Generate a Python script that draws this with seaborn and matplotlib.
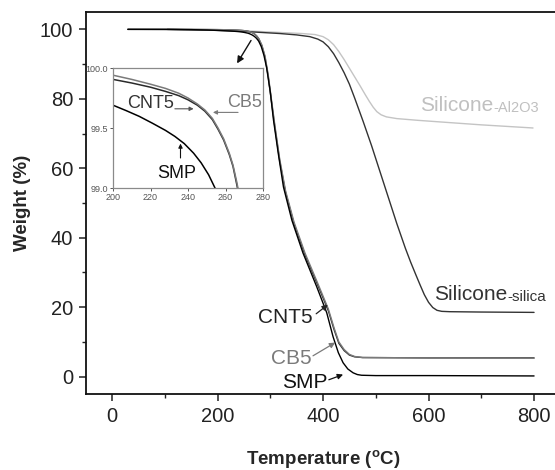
import matplotlib
matplotlib.use("Agg")
import matplotlib.pyplot as plt
import seaborn as sns
import pandas as pd
from matplotlib.ticker import MultipleLocator

# ---------------- data ----------------
smp_t = [30, 100, 150, 180, 200, 207, 214, 221, 228, 233, 238, 243, 247, 251, 254.4, 258,
         262, 266, 270, 274, 278, 283, 288, 293, 300, 306, 315, 325, 341, 362, 388, 407,
         419, 429, 438, 447, 457, 465, 473, 500, 600, 700, 800]
smp_w = [100.0, 99.98, 99.92, 99.82, 99.69, 99.645, 99.597, 99.54, 99.48, 99.43, 99.37,
         99.29, 99.21, 99.11, 99.0, 98.88, 98.65, 98.35, 97.95, 97.4, 96.6, 95.0, 92.5,
         89.0, 82.0, 74.0, 64.4, 54.6, 45.0, 35.6, 25.9, 18.4, 11.5, 6.9, 4.0, 2.2, 1.1,
         0.6, 0.4, 0.3, 0.3, 0.25, 0.2]

cb5_t = [30, 100, 150, 200, 210, 220, 228, 235, 240, 245, 249, 253, 256, 259, 262, 264,
         266, 267, 270, 274, 278, 284, 290, 296, 302, 309, 318, 329, 345, 366, 391, 410,
         421, 430, 440, 450, 460, 475, 600, 700, 800]
cb5_w = [100.0, 100.0, 99.98, 99.94, 99.905, 99.865, 99.83, 99.79, 99.75, 99.70, 99.65,
         99.58, 99.50, 99.41, 99.29, 99.19, 99.05, 98.97, 98.7, 98.15, 97.4, 95.5, 92.3,
         87.0, 80.0, 72.0, 62.5, 53.5, 44.5, 35.5, 26.5, 19.5, 14.0, 10.0, 7.8, 6.4, 5.8,
         5.5, 5.4, 5.35, 5.3]

cnt5_t = [30, 100, 150, 200, 210, 220, 228, 235, 240, 245, 249, 253, 256, 259, 262, 264,
          266, 267, 270, 274, 278, 284, 290, 296, 302, 309, 318, 329, 345, 366, 391, 410,
          421, 430, 440, 450, 460, 475, 600, 700, 800]
cnt5_w = [100.0, 99.99, 99.96, 99.905, 99.875, 99.84, 99.805, 99.77, 99.735, 99.69, 99.64,
          99.57, 99.49, 99.40, 99.28, 99.18, 99.03, 98.95, 98.65, 98.1, 97.3, 95.3, 92.0,
          86.5, 79.5, 71.5, 62.0, 53.0, 44.0, 35.0, 26.0, 19.0, 13.5, 9.6, 7.5, 6.2, 5.7,
          5.5, 5.4, 5.4, 5.4]

silica_t = [105, 200, 250, 318, 350, 375, 390, 400, 410, 420, 430, 440, 450, 460, 476, 492,
            508, 524, 540, 556, 566, 576, 584, 592, 600, 608, 616, 625, 640, 700, 800]
silica_w = [100.0, 99.7, 99.4, 98.8, 98.4, 97.9, 97.2, 96.4, 95.0, 93.0, 90.4, 87.5, 84.2,
            80.2, 73.5, 66.5, 59.0, 51.5, 44.0, 37.0, 33.0, 29.3, 26.4, 23.6, 21.4, 19.9,
            19.1, 18.8, 18.7, 18.6, 18.5]

al2o3_t = [105, 200, 250, 318, 360, 385, 400, 410, 420, 430, 440, 450, 460, 470, 480, 488,
           495, 502, 510, 520, 540, 580, 635, 700, 798]
al2o3_w = [100.0, 99.8, 99.6, 99.1, 98.8, 98.5, 97.9, 97.0, 95.6, 93.6, 91.3, 88.8, 86.3,
           83.8, 81.2, 79.2, 77.6, 76.3, 75.4, 74.8, 74.3, 73.8, 73.2, 72.5, 71.6]

x_ticks = [0, 200, 400, 600, 800]
y_ticks = [0, 20, 40, 60, 80, 100]
inset_x_ticks = [200, 220, 240, 260, 280]
inset_y_ticks = [99.0, 99.5, 100.0]

# ---------------- style ----------------
sns.set_style("ticks")
plt.rcParams["font.family"] = ["Liberation Sans", "DejaVu Sans"]
plt.rcParams["mathtext.fontset"] = "custom"
plt.rcParams["mathtext.rm"] = "Liberation Sans"
plt.rcParams["mathtext.bf"] = "Liberation Sans:bold"

fig = plt.figure(figsize=(5.55, 4.70), dpi=100)
ax = fig.add_axes([0.1543, 0.1617, 0.8555, 0.8128])

series = [
    (al2o3_t, al2o3_w, "#c4c4c4"),
    (silica_t, silica_w, "#333333"),
    (cnt5_t, cnt5_w, "#2a2a2a"),
    (cb5_t, cb5_w, "#7a7a7a"),
    (smp_t, smp_w, "#000000"),
]
for t, w, c in series:
    df = pd.DataFrame({"T": t, "W": w})
    sns.lineplot(data=df, x="T", y="W", ax=ax, color=c, lw=1.0, sort=False, estimator=None)

ax.set_xlim(-50, 850)
ax.set_ylim(-5, 105)
ax.set_xticks(x_ticks)
ax.set_yticks(y_ticks)
ax.xaxis.set_minor_locator(MultipleLocator(100))
ax.yaxis.set_minor_locator(MultipleLocator(10))
ax.tick_params(which="major", direction="out", length=5, width=1.1, labelsize=14.5,
               colors="#222222", pad=4)
ax.tick_params(which="minor", direction="out", length=3, width=1.0, colors="#222222")
for s in ["left", "bottom", "top", "right"]:
    ax.spines[s].set_linewidth(1.3)
    ax.spines[s].set_color("#111111")
ax.set_xlabel(r"Temperature ($^\mathregular{o}$C)", fontsize=13.5, fontweight="bold",
              labelpad=16.5)
ax.set_ylabel("Weight (%)", fontsize=13.5, fontweight="bold", labelpad=6)


def arrow(a, head, tail, color, lw=0.9, ms=8):
    a.annotate("", xy=head, xytext=tail,
               arrowprops=dict(arrowstyle="-|>", color=color, lw=lw,
                               mutation_scale=ms, shrinkA=0, shrinkB=0))


ax.text(328, 17, "CNT5", fontsize=15, color="#222222", ha="center", va="center")
arrow(ax, (409, 20.7), (387, 18.1), "#222222")
ax.text(339, 5.3, "CB5", fontsize=15, color="#7a7a7a", ha="center", va="center")
arrow(ax, (423, 9.8), (381, 6.0), "#7a7a7a")
ax.text(366, -1.8, "SMP", fontsize=15, color="#111111", ha="center", va="center")
arrow(ax, (438, 0.6), (411, -0.9), "#111111")

t1 = ax.text(610, 23.6, "Silicone", fontsize=15, color="#333333", ha="left", va="center")
ax.annotate("-silica", xy=(1, 0), xycoords=t1, fontsize=11, color="#333333",
            ha="left", va="bottom")
t2 = ax.text(584, 78.2, "Silicone", fontsize=15, color="#c0c0c0", ha="left", va="center")
ax.annotate("-Al2O3", xy=(1, 0), xycoords=t2, fontsize=10.5, color="#c0c0c0",
            ha="left", va="bottom")

arrow(ax, (237, 90.2), (263.5, 96.8), "#111111", lw=1.0, ms=10)

# ---------------- inset ----------------
ins = fig.add_axes([113 / 555, 1 - 188 / 470, 150 / 555, 120 / 470])
for t, w, c in series[2:]:
    df = pd.DataFrame({"T": t, "W": w})
    sns.lineplot(data=df, x="T", y="W", ax=ins, color=c, lw=1.1, sort=False,
                 estimator=None)
ins.set_xlim(200, 280)
ins.set_ylim(99.0, 100.0)
ins.set_xticks(inset_x_ticks)
ins.set_yticks(inset_y_ticks)
ins.set_xticklabels([str(v) for v in inset_x_ticks])
ins.set_yticklabels([f"{v:.1f}" for v in inset_y_ticks])
ins.tick_params(direction="out", length=2, width=0.7, labelsize=6.5, colors="#555555",
                pad=1.5)
ins.set_xlabel("")
ins.set_ylabel("")
for s in ins.spines.values():
    s.set_color("#8a8a8a")
    s.set_linewidth(0.9)

ins.text(220, 99.70, "CNT5", fontsize=13, color="#333333", ha="center", va="center")
arrow(ins, (243, 99.66), (233, 99.66), "#555555", lw=0.8, ms=6)
ins.text(270, 99.71, "CB5", fontsize=13, color="#7a7a7a", ha="center", va="center")
arrow(ins, (253.3, 99.63), (266.7, 99.63), "#7a7a7a", lw=0.8, ms=6)
ins.text(234, 99.12, "SMP", fontsize=13, color="#111111", ha="center", va="center")
arrow(ins, (236, 99.37), (236, 99.25), "#111111", lw=0.8, ms=6)

fig.savefig("out.png", dpi=100)
